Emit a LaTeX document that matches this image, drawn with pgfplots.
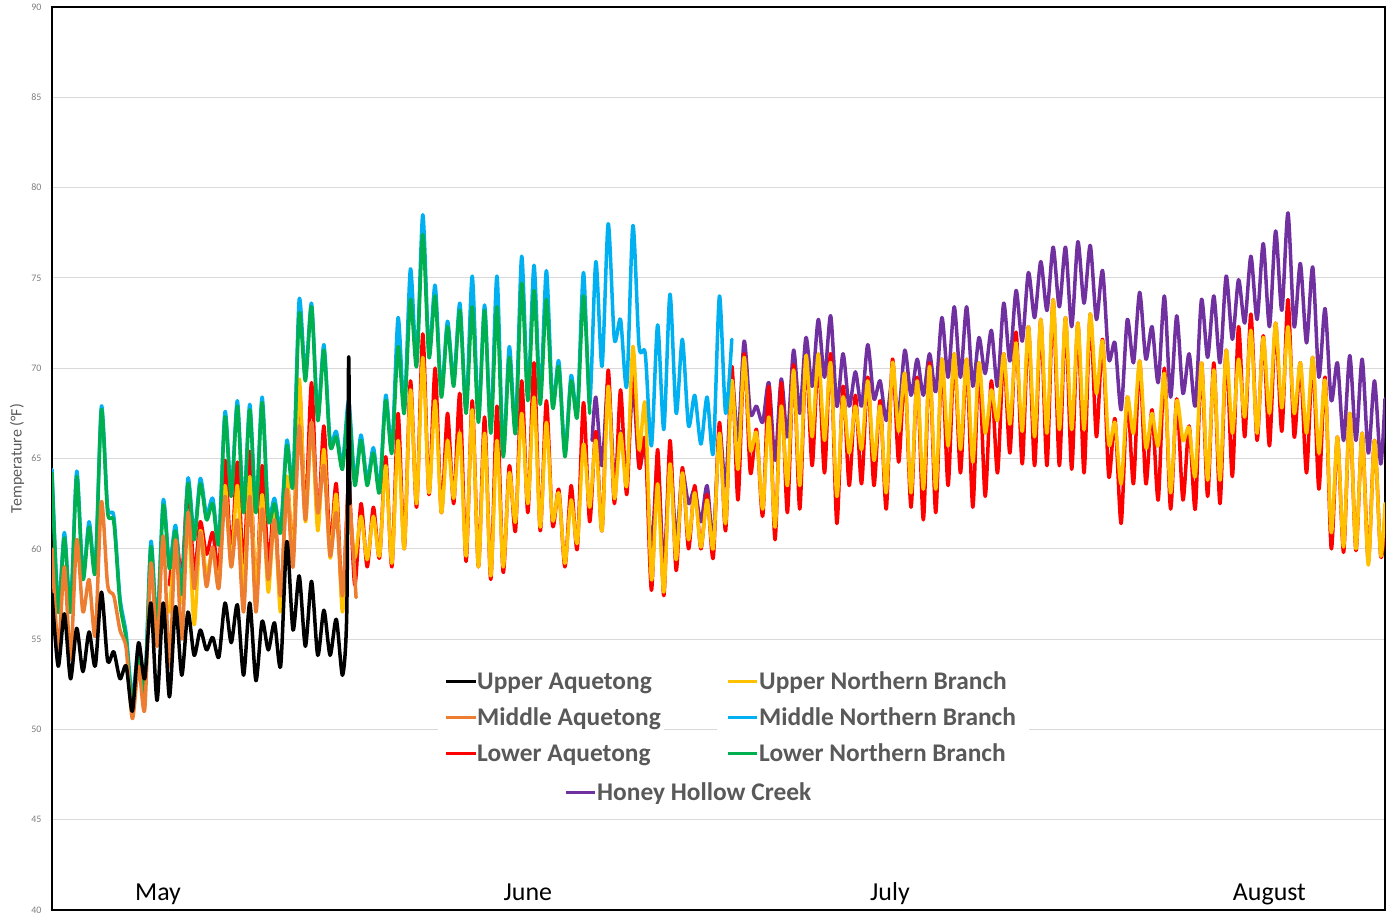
\documentclass[border=0pt]{standalone}
\usepackage{pgfplots}
\pgfplotsset{compat=1.18}
\usepackage{fontspec}
\setmainfont{Carlito}
\definecolor{cBlack}{HTML}{000000}
\definecolor{cOrange}{HTML}{ED7D31}
\definecolor{cRed}{HTML}{FF0000}
\definecolor{cYellow}{HTML}{FFC000}
\definecolor{cBlue}{HTML}{00B0F0}
\definecolor{cGreen}{HTML}{00B050}
\definecolor{cPurple}{HTML}{7030A0}
\definecolor{gridgray}{HTML}{D9D9D9}
\definecolor{tickgray}{HTML}{7F7F7F}
\definecolor{textgray}{HTML}{595959}
\begin{document}
\begin{tikzpicture}
\begin{axis}[name=ax, scale only axis, width=1333bp, height=903bp,
  xmin=0, xmax=107.85, ymin=40, ymax=90,
  ytick={40,45,...,90}, xtick=\empty,
  ymajorgrids, grid style={draw=gridgray, line width=1.1bp},
  axis line style={line width=1.3bp, black},
  major tick length=0pt,
  /pgf/number format/assume math mode=true,
  yticklabel style={font=\fontsize{10}{12}\selectfont, text=tickgray, xshift=-7bp},
  every axis plot/.append style={line width=3.5bp, line join=round, line cap=round, mark=none, smooth, tension=0.45},
]
% Honey Hollow Creek
\addplot[cPurple] coordinates {(43.7,66.0)(44,68.4)(44.5,64.6)(45,69.3)(45.5,63.8)(46,66.5)(46.5,64.0)(47,69.0)(47.5,64.5)(48,65.7)(48.5,59.9)(49,64.9)(49.5,59.0)(50,65.0)(50.5,60.5)(51,64.2)(51.5,62.5)(52,63.3)(52.5,61.5)(53,63.5)(53.5,60.5)(54,66.6)(54.5,63.5)(55,69.5)(55.5,66.0)(56,71.5)(56.5,67.5)(57,67.9)(57.5,67.0)(58,69.2)(58.5,64.9)(59,69.4)(59.5,66.2)(60,71.0)(60.5,67.5)(61,71.7)(61.5,69.0)(62,72.7)(62.5,69.5)(63,72.9)(63.5,67.9)(64,70.8)(64.5,67.9)(65,69.8)(65.5,67.9)(66,71.3)(66.5,68.3)(67,69.3)(67.5,67.1)(68,69.5)(68.5,67.5)(69,71.0)(69.5,68.5)(70,70.5)(70.5,68.5)(71,70.8)(71.5,68.7)(72,72.8)(72.5,69.5)(73,73.4)(73.5,69.5)(74,73.4)(74.5,69.0)(75,71.7)(75.5,69.7)(76,72.1)(76.5,69.0)(77,73.6)(77.5,70.4)(78,74.3)(78.5,71.5)(79,75.3)(79.5,72.8)(80,75.9)(80.5,73.2)(81,76.7)(81.5,73.4)(82,76.7)(82.5,72.3)(83,77.0)(83.5,73.6)(84,76.8)(84.5,72.7)(85,75.4)(85.5,70.5)(86,71.4)(86.5,67.7)(87,72.7)(87.5,70.3)(88,74.2)(88.5,70.5)(89,72.3)(89.5,69.2)(90,74.0)(90.5,68.4)(91,72.9)(91.5,68.6)(92,70.8)(92.5,67.9)(93,73.8)(93.5,70.6)(94,74.0)(94.5,70.3)(95,75.1)(95.5,71.6)(96,74.9)(96.5,72.5)(97,76.2)(97.5,72.7)(98,76.9)(98.5,72.3)(99,77.6)(99.5,73.2)(100,78.6)(100.5,72.3)(101,75.8)(101.5,71.4)(102,75.6)(102.5,69.5)(103,73.3)(103.5,68.2)(104,70.3)(104.5,66.0)(105,70.7)(105.5,66.0)(106,70.5)(106.5,65.3)(107,69.3)(107.5,64.7)(107.85,68.3)};
% Lower Aquetong
\addplot[cRed] coordinates {(9.5,58.0)(10,60.9)(10.5,58.5)(11,63.5)(11.5,58.7)(12,61.5)(12.5,59.7)(13,60.9)(13.5,58.9)(14,64.9)(14.5,59.6)(15,64.8)(15.5,58.9)(16,65.4)(16.5,57.0)(17,64.6)(17.5,59.2)(18,62.5)(18.5,57.0)(19,63.8)(19.5,59.8)(20,69.0)(20.5,62.0)(21,69.2)(21.5,61.4)(22,66.8)(22.5,60.1)(23,63.6)(23.5,57.0)(24,63.5)(24.5,58.0)(25,62.5)(25.5,59.0)(26,62.3)(26.5,59.5)(27,65.1)(27.5,59.0)(28,67.5)(28.5,60.0)(29,69.3)(29.5,62.3)(30,71.9)(30.5,63.0)(31,70.0)(31.5,62.0)(32,67.5)(32.5,62.5)(33,68.6)(33.5,59.3)(34,68.2)(34.5,59.0)(35,67.3)(35.5,58.3)(36,67.9)(36.5,58.7)(37,64.6)(37.5,61.0)(38,69.3)(38.5,62.0)(39,70.3)(39.5,61.0)(40,68.2)(40.5,61.3)(41,63.3)(41.5,59.0)(42,63.5)(42.5,60.0)(43,68.1)(43.5,61.5)(44,66.5)(44.5,61.0)(45,69.9)(45.5,62.5)(46,68.8)(46.5,63.0)(47,70.1)(47.5,64.5)(48,66.0)(48.5,57.7)(49,65.5)(49.5,57.4)(50,66.0)(50.5,58.8)(51,64.5)(51.5,60.0)(52,63.5)(52.5,60.0)(53,63.0)(53.5,59.5)(54,67.0)(54.5,61.0)(55,70.1)(55.5,62.7)(56,70.8)(56.5,64.2)(57,66.6)(57.5,61.8)(58,69.0)(58.5,60.5)(59,69.2)(59.5,62.0)(60,70.2)(60.5,62.2)(61,70.7)(61.5,64.6)(62,70.6)(62.5,64.2)(63,70.8)(63.5,61.4)(64,69.0)(64.5,63.5)(65,68.5)(65.5,63.6)(66,69.5)(66.5,63.5)(67,68.2)(67.5,62.2)(68,70.5)(68.5,64.8)(69,69.7)(69.5,62.3)(70,69.5)(70.5,61.6)(71,70.3)(71.5,62.0)(72,70.5)(72.5,63.5)(73,70.8)(73.5,64.2)(74,70.5)(74.5,62.3)(75,70.3)(75.5,62.9)(76,69.3)(76.5,64.2)(77,70.8)(77.5,65.3)(78,72.0)(78.5,64.7)(79,72.3)(79.5,64.6)(80,72.7)(80.5,64.6)(81,73.8)(81.5,64.6)(82,72.8)(82.5,64.4)(83,72.5)(83.5,64.2)(84,73.0)(84.5,66.2)(85,71.6)(85.5,64.0)(86,67.2)(86.5,61.4)(87,68.4)(87.5,63.6)(88,70.4)(88.5,63.6)(89,67.7)(89.5,62.7)(90,70.0)(90.5,62.2)(91,68.3)(91.5,62.7)(92,66.8)(92.5,62.2)(93,70.3)(93.5,62.9)(94,70.3)(94.5,62.5)(95,71.0)(95.5,64.0)(96,72.3)(96.5,66.2)(97,73.0)(97.5,66.0)(98,71.8)(98.5,65.7)(99,72.5)(99.5,66.5)(100,73.8)(100.5,66.2)(101,70.3)(101.5,64.2)(102,70.6)(102.5,63.3)(103,69.5)(103.5,60.0)(104,66.2)(104.5,59.8)(105,67.5)(105.5,59.9)(106,66.4)(106.5,59.3)(107,66.0)(107.5,59.6)(107.85,61.5)};
% Upper Northern Branch
\addplot[cYellow] coordinates {(9.5,56.5)(10,60.0)(10.5,57.0)(11,62.0)(11.5,55.8)(12,61.0)(12.5,58.5)(13,60.0)(13.5,58.0)(14,63.5)(14.5,59.0)(15,63.5)(15.5,57.5)(16,64.0)(16.5,57.6)(17,63.0)(17.5,57.6)(18,62.0)(18.5,56.5)(19,64.0)(19.5,59.5)(20,69.4)(20.5,61.5)(21,67.0)(21.5,61.0)(22,65.5)(22.5,59.5)(23,63.0)(23.5,56.5)(24,62.0)(24.5,59.5)(25,61.8)(25.5,59.4)(26,61.8)(26.5,59.6)(27,64.6)(27.5,59.2)(28,66.0)(28.5,60.0)(29,68.8)(29.5,62.5)(30,70.6)(30.5,63.1)(31,68.2)(31.5,62.0)(32,66.0)(32.5,62.8)(33,66.4)(33.5,59.6)(34,67.7)(34.5,59.0)(35,66.4)(35.5,58.5)(36,66.0)(36.5,59.0)(37,64.2)(37.5,61.5)(38,67.5)(38.5,62.5)(39,68.4)(39.5,61.2)(40,67.0)(40.5,61.6)(41,63.1)(41.5,59.2)(42,62.7)(42.5,60.3)(43,65.8)(43.5,62.3)(44,66.0)(44.5,61.0)(45,69.0)(45.5,62.8)(46,66.4)(46.5,63.5)(47,71.2)(47.5,65.5)(48,68.0)(48.5,58.3)(49,63.6)(49.5,57.6)(50,64.7)(50.5,59.4)(51,64.2)(51.5,60.5)(52,63.1)(52.5,60.1)(53,62.7)(53.5,60.0)(54,66.4)(54.5,61.4)(55,69.3)(55.5,64.4)(56,70.6)(56.5,65.5)(57,66.4)(57.5,62.2)(58,67.3)(58.5,61.2)(59,67.9)(59.5,63.5)(60,69.9)(60.5,63.5)(61,70.7)(61.5,66.2)(62,70.8)(62.5,66.0)(63,70.3)(63.5,62.9)(64,68.4)(64.5,65.3)(65,67.9)(65.5,65.5)(66,69.3)(66.5,64.9)(67,67.9)(67.5,63.1)(68,70.3)(68.5,66.5)(69,69.7)(69.5,63.1)(70,69.3)(70.5,63.3)(71,70.1)(71.5,63.3)(72,70.5)(72.5,65.7)(73,70.8)(73.5,65.5)(74,70.5)(74.5,64.8)(75,70.3)(75.5,66.4)(76,68.8)(76.5,67.1)(77,70.8)(77.5,66.9)(78,71.4)(78.5,66.5)(79,72.3)(79.5,66.2)(80,72.7)(80.5,66.4)(81,73.8)(81.5,66.6)(82,72.8)(82.5,66.6)(83,72.5)(83.5,66.6)(84,73.0)(84.5,68.6)(85,71.5)(85.5,65.8)(86,67.0)(86.5,63.6)(87,68.4)(87.5,66.4)(88,70.4)(88.5,65.6)(89,67.5)(89.5,65.7)(90,69.7)(90.5,63.1)(91,68.2)(91.5,66.0)(92,66.7)(92.5,64.0)(93,70.3)(93.5,63.8)(94,69.9)(94.5,63.8)(95,71.0)(95.5,66.4)(96,70.5)(96.5,67.3)(97,72.1)(97.5,66.4)(98,71.7)(98.5,67.5)(99,72.5)(99.5,67.8)(100,72.3)(100.5,67.5)(101,70.3)(101.5,66.4)(102,70.6)(102.5,65.3)(103,69.3)(103.5,60.9)(104,66.2)(104.5,60.1)(105,67.5)(105.5,60.0)(106,66.4)(106.5,59.1)(107,66.0)(107.5,59.6)(107.85,62.5)};
% Middle Northern Branch
\addplot[cBlue] coordinates {(0,64.4)(0.5,56.8)(1,60.9)(1.5,56.8)(2,64.3)(2.5,58.6)(3,61.5)(3.5,59.0)(4,67.9)(4.5,62.3)(5,61.8)(5.5,57.3)(6,55.3)(6.5,51.8)(7,54.6)(7.5,52.2)(8,60.4)(8.5,55.8)(9,62.7)(9.5,59.2)(10,61.3)(10.5,57.8)(11,63.9)(11.5,60.8)(12,63.9)(12.5,61.9)(13,62.8)(13.5,60.6)(14,67.6)(14.5,63.2)(15,68.2)(15.5,62.3)(16,68.0)(16.5,62.3)(17,68.4)(17.5,61.9)(18,62.8)(18.5,61.2)(19,66.0)(19.5,63.8)(20,73.8)(20.5,69.6)(21,73.6)(21.5,67.4)(22,71.3)(22.5,66.0)(23,66.5)(23.5,64.7)(24,68.2)(24.5,63.8)(25,66.3)(25.5,63.8)(26,65.6)(26.5,63.4)(27,68.5)(27.5,65.6)(28,72.8)(28.5,67.8)(29,75.5)(29.5,70.4)(30,78.5)(30.5,70.9)(31,74.6)(31.5,68.7)(32,72.6)(32.5,69.3)(33,73.6)(33.5,67.8)(34,75.1)(34.5,67.3)(35,73.5)(35.5,66.7)(36,75.1)(36.5,65.4)(37,71.2)(37.5,66.7)(38,76.2)(38.5,68.5)(39,75.7)(39.5,68.3)(40,75.4)(40.5,68.1)(41,70.4)(41.5,65.4)(42,69.6)(42.5,67.6)(43,75.3)(43.5,68.0)(44,75.9)(44.5,70.1)(45,78.0)(45.5,71.6)(46,72.7)(46.5,69.0)(47,77.9)(47.5,71.2)(48,70.8)(48.5,65.7)(49,72.4)(49.5,66.6)(50,74.1)(50.5,67.5)(51,71.6)(51.5,66.8)(52,68.5)(52.5,65.8)(53,68.4)(53.5,65.3)(54,74.0)(54.5,67.5)(55,71.6)};
% Lower Northern Branch
\addplot[cGreen] coordinates {(0,64.2)(0.5,56.5)(1,60.6)(1.5,56.5)(2,64.0)(2.5,58.3)(3,61.2)(3.5,58.7)(4,67.7)(4.5,62.0)(5,61.5)(5.5,57.0)(6,55.0)(6.5,51.5)(7,54.3)(7.5,51.9)(8,60.1)(8.5,55.5)(9,62.4)(9.5,58.9)(10,61.0)(10.5,57.5)(11,63.6)(11.5,60.5)(12,63.6)(12.5,61.6)(13,62.5)(13.5,60.3)(14,67.3)(14.5,62.9)(15,67.9)(15.5,62.0)(16,67.7)(16.5,62.0)(17,68.1)(17.5,61.6)(18,62.5)(18.5,60.9)(19,65.7)(19.5,63.5)(20,73.0)(20.5,69.3)(21,73.4)(21.5,67.1)(22,71.0)(22.5,65.7)(23,66.2)(23.5,64.4)(24,67.8)(24.5,63.5)(25,66.0)(25.5,63.5)(26,65.3)(26.5,63.1)(27,68.2)(27.5,65.3)(28,71.2)(28.5,67.5)(29,73.8)(29.5,70.1)(30,77.4)(30.5,70.6)(31,74.0)(31.5,68.4)(32,72.3)(32.5,69.0)(33,73.2)(33.5,67.5)(34,73.4)(34.5,67.0)(35,73.2)(35.5,66.4)(36,73.4)(36.5,65.1)(37,70.6)(37.5,66.4)(38,74.7)(38.5,68.2)(39,74.3)(39.5,68.0)(40,73.8)(40.5,67.8)(41,70.1)(41.5,65.1)(42,69.3)(42.5,67.3)(43,74.0)(43.5,67.5)};
% Middle Aquetong
\addplot[cOrange] coordinates {(0,60.0)(0.5,54.4)(1,59.0)(1.5,53.9)(2,60.5)(2.5,56.5)(3,58.3)(3.5,55.2)(4,62.6)(4.5,58.0)(5,57.4)(5.5,55.5)(6,54.5)(6.5,50.6)(7,53.5)(7.5,51.1)(8,59.2)(8.5,54.6)(9,60.7)(9.5,53.5)(10,60.5)(10.5,55.0)(11,62.0)(11.5,57.8)(12,60.9)(12.5,57.9)(13,60.1)(13.5,57.8)(14,62.9)(14.5,59.0)(15,61.6)(15.5,56.5)(16,62.9)(16.5,56.5)(17,62.2)(17.5,58.3)(18,61.6)(18.5,57.4)(19,63.3)(19.5,59.0)(20,66.8)(20.5,61.6)(21,67.0)(21.5,62.0)(22,64.6)(22.5,59.6)(23,62.0)(23.5,57.4)(24,62.9)(24.6,57.3)};
% Upper Aquetong
\addplot[cBlack] coordinates {(0,57.5)(0.5,53.5)(1,56.4)(1.5,52.8)(2,55.6)(2.5,53.2)(3,55.4)(3.5,53.5)(4,57.6)(4.5,53.8)(5,54.3)(5.5,52.8)(6,53.5)(6.5,51.0)(7,54.8)(7.5,52.8)(8,57.0)(8.5,51.6)(9,57.0)(9.5,51.8)(10,56.8)(10.5,53.0)(11,56.5)(11.5,54.1)(12,55.5)(12.5,54.4)(13,55.1)(13.5,54.0)(14,57.0)(14.5,54.8)(15,56.9)(15.5,53.0)(16,57.0)(16.5,52.7)(17,56.0)(17.5,54.4)(18,55.9)(18.5,53.5)(19,60.4)(19.5,55.5)(20,58.5)(20.5,54.6)(21,58.2)(21.5,54.1)(22,56.6)(22.5,54.1)(23,56.1)(23.5,53.0)(23.85,56.5)(24,70.6)(24.1,62.5)};
% month labels
\node[anchor=base, font=\fontsize{26}{30}\selectfont] at (axis cs:8.58,40.55) {May};
\node[anchor=base, font=\fontsize{26}{30}\selectfont] at (axis cs:38.5,40.55) {June};
\node[anchor=base, font=\fontsize{26}{30}\selectfont] at (axis cs:67.8,40.55) {July};
\node[anchor=base, font=\fontsize{26}{30}\selectfont] at (axis cs:98.5,40.55) {August};
\end{axis}
% y label
\node[rotate=90, font=\fontsize{16}{18}\selectfont, text=textgray] at ([xshift=-35bp]ax.west) {Temperature (°F)};
% legend
\begin{scope}[shift={(ax.south west)}, x=1bp, y=1bp,
  lt/.style={anchor=base west, inner sep=0pt, font=\fontsize{25.5}{30}\selectfont\bfseries, text=textgray}]
\fill[white] (386,150) rectangle (612,210);
\fill[white] (665,150) rectangle (977,210);
\draw[cBlack, line width=3bp] (394,228) -- (424,228);
\node[lt] at (425,220) {Upper Aquetong};
\draw[cOrange, line width=3bp] (394,192) -- (424,192);
\node[lt] at (425,184) {Middle Aquetong};
\draw[cRed, line width=3bp] (394,156) -- (424,156);
\node[lt] at (425,148) {Lower Aquetong};
\draw[cYellow, line width=3bp] (676,228) -- (705,228);
\node[lt] at (707,220) {Upper Northern Branch};
\draw[cBlue, line width=3bp] (676,192) -- (705,192);
\node[lt] at (707,184) {Middle Northern Branch};
\draw[cGreen, line width=3bp] (676,156) -- (705,156);
\node[lt] at (707,148) {Lower Northern Branch};
\draw[cPurple, line width=3bp] (514,117) -- (543,117);
\node[lt] at (545,109) {Honey Hollow Creek};
\end{scope}
\pgfresetboundingbox
\useasboundingbox ([xshift=-52bp,yshift=-3bp]ax.south west) rectangle ([xshift=2bp,yshift=7bp]ax.north east);
\end{tikzpicture}
\end{document}
